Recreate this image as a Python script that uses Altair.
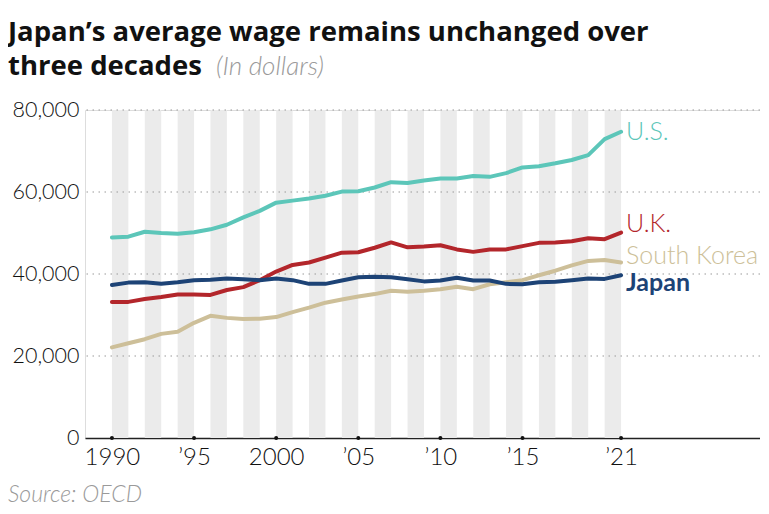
import altair as alt
import pandas as pd

# ---- data (values in thousands of dollars) ----
years = list(range(1990, 2022))
us = [48.9, 49.1, 50.3, 50.0, 49.8, 50.2, 50.9, 52.0, 53.8, 55.4, 57.4, 57.9, 58.4, 59.1, 60.1, 60.2,
      61.1, 62.4, 62.2, 62.8, 63.3, 63.3, 63.9, 63.7, 64.6, 66.0, 66.3, 67.0, 67.8, 69.0, 72.9, 74.7]
uk = [33.2, 33.2, 33.9, 34.4, 35.0, 35.0, 34.9, 36.1, 36.8, 38.5, 40.6, 42.2, 42.8, 44.0, 45.2, 45.3,
      46.4, 47.7, 46.5, 46.7, 47.0, 46.0, 45.4, 46.0, 46.0, 46.8, 47.6, 47.7, 48.0, 48.7, 48.5, 50.1]
south_korea = [22.1, 23.1, 24.1, 25.4, 25.9, 28.1, 29.8, 29.3, 29.0, 29.1, 29.5, 30.7, 31.8, 33.0, 33.8, 34.5,
               35.1, 35.9, 35.7, 35.9, 36.3, 36.9, 36.3, 37.5, 38.0, 38.5, 39.7, 40.8, 42.1, 43.2, 43.4, 42.8]
japan = [37.3, 37.9, 38.0, 37.6, 38.0, 38.5, 38.6, 38.9, 38.7, 38.5, 38.9, 38.5, 37.6, 37.6, 38.4, 39.2,
         39.3, 39.2, 38.7, 38.2, 38.4, 39.1, 38.4, 38.4, 37.6, 37.5, 38.0, 38.1, 38.5, 38.9, 38.8, 39.7]

countries = ["U.S.", "U.K.", "South Korea", "Japan"]
colors = ["#5cc6b9", "#b3262b", "#cdbf99", "#1d4376"]
label_values = [74.7, 52.1, 44.5, 37.7]   # where each end label sits (thousands)

x_tick_values = [1990, 1995, 2000, 2005, 2010, 2015, 2021]
x_tick_labels = ["1990", "\u201995", "2000", "\u201905", "\u201910", "\u201915", "\u201921"]
y_tick_values = [0, 20000, 40000, 60000, 80000]
band_starts = list(range(1990, 2021, 2))

title_lines = ["Japan\u2019s average wage remains unchanged over", "three decades"]
unit_text = "(In dollars)"
source_text = "Source: OECD"

# ---- tables ----
series = {"U.S.": us, "U.K.": uk, "South Korea": south_korea, "Japan": japan}
rows = []
for c in countries:
    for y, v in zip(years, series[c]):
        rows.append({"year": y, "wage": v * 1000, "country": c})
df = pd.DataFrame(rows)

labels_df = pd.DataFrame({"country": countries, "year": [2021] * 4,
                          "wage": [v * 1000 for v in label_values]})
bands_df = pd.DataFrame({"start": band_starts, "end": [b + 1 for b in band_starts]})
ticks_df = pd.DataFrame({"year": x_tick_values, "wage": [0] * len(x_tick_values)})
grid_df = pd.DataFrame({"wage": y_tick_values[1:]})

label_expr = " : ".join(
    [f"datum.value == {v} ? '{l}'" for v, l in zip(x_tick_values, x_tick_labels)]) + " : ''"

FONT = "Lato"
TITLE_FONT = "Open Sans"
x_scale = alt.Scale(domain=[1988.36, 2029.46], nice=False, zero=False)
y_scale = alt.Scale(domain=[0, 80000], nice=False)
color_scale = alt.Scale(domain=countries, range=colors)

x_axis = alt.Axis(values=x_tick_values, labelExpr=label_expr, title=None, grid=False,
                  ticks=False, domain=True, domainColor="#222", domainWidth=1.5,
                  labelFont=FONT, labelFontSize=24, labelFontWeight=300, labelColor="#111",
                  labelPadding=7, labelFlush=False)
y_axis = alt.Axis(values=y_tick_values, format=",.0f", title=None, grid=False, ticks=False,
                  domain=False, labelFont=FONT, labelFontSize=21.5, labelFontWeight=300,
                  labelColor="#111", labelPadding=6)


def X(field):
    return alt.X(field, scale=x_scale, axis=x_axis)


def Y(field):
    return alt.Y(field, scale=y_scale, axis=y_axis)


bands = alt.Chart(bands_df).transform_calculate(top="80000", bottom="0").mark_rect(
    color="#ebebeb"
).encode(
    x=X("start:Q"), x2="end:Q",
    y=Y("top:Q"), y2="bottom:Q",
)

grid = alt.Chart(grid_df).mark_rule(color="#9a9a9a", strokeDash=[1.5, 4.5], strokeWidth=1.2).encode(
    y=Y("wage:Q"),
)

lines = alt.Chart(df).mark_line(strokeWidth=4, strokeJoin="round", strokeCap="round").encode(
    x=X("year:Q"),
    y=Y("wage:Q"),
    color=alt.Color("country:N", scale=color_scale, legend=None),
    detail="country:N",
)

dots = alt.Chart(ticks_df).mark_circle(color="#111", size=16, opacity=1).encode(
    x=X("year:Q"),
    y=Y("wage:Q"),
)

end_labels = alt.Chart(labels_df).transform_filter(alt.datum.country != "Japan").mark_text(
    align="left", baseline="middle", dx=5, font=FONT, fontSize=25, fontWeight=300
).encode(
    x=X("year:Q"), y=Y("wage:Q"),
    text="country:N",
    color=alt.Color("country:N", scale=color_scale, legend=None),
)

japan_label = alt.Chart(labels_df).transform_filter(alt.datum.country == "Japan").mark_text(
    align="left", baseline="middle", dx=5, font=FONT, fontSize=25, fontWeight="bold"
).encode(
    x=X("year:Q"), y=Y("wage:Q"),
    text="country:N",
    color=alt.Color("country:N", scale=color_scale, legend=None),
)

title1 = alt.Chart(pd.DataFrame({"t": [title_lines[0]]})).mark_text(
    align="left", baseline="alphabetic", font=TITLE_FONT, fontSize=27.5, fontWeight="bold", color="#111"
).encode(x=alt.value(-77), y=alt.value(-69), text="t:N")

title2 = alt.Chart(pd.DataFrame({"t": [title_lines[1]]})).mark_text(
    align="left", baseline="alphabetic", font=TITLE_FONT, fontSize=27.5, fontWeight="bold", color="#111"
).encode(x=alt.value(-77), y=alt.value(-35), text="t:N")

unit_note = alt.Chart(pd.DataFrame({"t": [unit_text]})).mark_text(
    align="left", baseline="alphabetic", font=FONT, fontSize=26, fontStyle="italic",
    fontWeight=300, color="#9a9a9a"
).encode(x=alt.value(131), y=alt.value(-35), text="t:N")

source = alt.Chart(pd.DataFrame({"t": [source_text]})).mark_text(
    align="left", baseline="alphabetic", font=FONT, fontSize=23, fontStyle="italic",
    fontWeight=300, color="#9a9a9a"
).encode(x=alt.value(-77), y=alt.value(392), text="t:N")

chart = alt.layer(bands, grid, lines, dots, end_labels, japan_label,
                  title1, title2, unit_note, source).properties(
    width=675, height=328,
    autosize=alt.AutoSizeParams(type="none"),
    padding={"left": 77, "top": 102, "right": 0, "bottom": 68},
).configure_view(stroke=None).configure(background="white")

chart.save("out.html", embed_options={"renderer": "svg", "actions": False})
